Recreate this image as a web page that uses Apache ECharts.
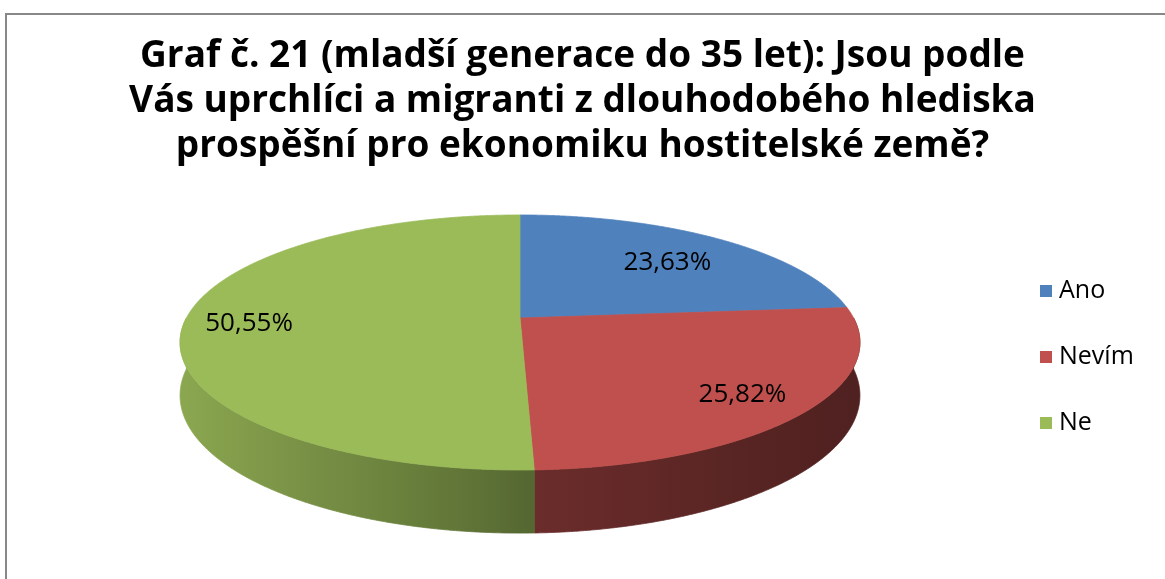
<!DOCTYPE html>
<html>
<head>
<meta charset="utf-8">
<script src="https://cdn.jsdelivr.net/npm/echarts@6/dist/echarts.min.js"></script>
<style>
html,body{margin:0;padding:0;background:#fff;}
#chart{width:1165px;height:579px;}
</style>
</head>
<body>
<div id="chart"></div>
<script>
// ---- data ----
const titleText = 'Graf č. 21 (mladší generace do 35 let): Jsou podle\nVás uprchlíci a migranti z dlouhodobého hlediska\nprospěšní pro ekonomiku hostitelské země?';
const categories = ['Ano', 'Nevím', 'Ne'];
const values = [23.63, 25.82, 50.55];
const labels = ['23,63%', '25,82%', '50,55%'];
const colors = ['#4F81BD', '#C0504D', '#9BBB59'];

// ---- layout of the 3D pie ----
const CX = 520, CY = 318, RA = 333.6, RB = 122.8, PERSP = 0.192, DEPTH = 51;
const labelRadius = [0.72, 0.8, 0.81];
const labelDy = 4;

function proj(X, Z, H) {
  const s = 1 / (1 + PERSP * Z);
  return [CX + RA * X * s, CY - RB * Z * s + DEPTH * H * s];
}
function hexToRgb(h) {
  h = h.replace('#', '');
  return [parseInt(h.substr(0, 2), 16), parseInt(h.substr(2, 2), 16), parseInt(h.substr(4, 2), 16)];
}
function shadeColor(hex, f) {
  const c = hexToRgb(hex).map(v => Math.max(0, Math.min(255, Math.round(v * f))));
  return 'rgb(' + c.join(',') + ')';
}
function sideShade(X) {
  return X < 0 ? 0.57 + 0.32 * (-X) : 0.56 - 0.15 * X;
}

const starts = [];
let acc = 0;
for (let i = 0; i < values.length; i++) { starts.push(acc); acc += values[i]; }

function makeRender(idx) {
  return function (params, api) {
    const v = api.value(0), st = api.value(1);
    const t0 = 2 * Math.PI * st / 100, t1 = 2 * Math.PI * (st + v) / 100;
    const col = colors[idx];
    const children = [];
    const step = Math.PI / 720;
    // side wall (front half only)
    const s0 = Math.max(t0, Math.PI / 2), s1 = Math.min(t1, 3 * Math.PI / 2);
    if (s1 > s0) {
      const top = [], bot = [];
      for (let t = s0; t < s1; t += step) {
        top.push(proj(Math.sin(t), Math.cos(t), 0));
        bot.push(proj(Math.sin(t), Math.cos(t), 1));
      }
      top.push(proj(Math.sin(s1), Math.cos(s1), 0));
      bot.push(proj(Math.sin(s1), Math.cos(s1), 1));
      const pts = top.concat(bot.reverse());
      const stops = [];
      for (let k = 0; k <= 20; k++) {
        const X = -1 + k / 10;
        stops.push({ offset: k / 20, color: shadeColor(col, sideShade(X)) });
      }
      const grad = new echarts.graphic.LinearGradient(CX - RA, 0, CX + RA, 0, stops, true);
      children.push({
        type: 'polygon', z2: 1,
        shape: { points: pts },
        style: { fill: grad, stroke: grad, lineWidth: 0.8 }
      });
    }
    // top face
    const tp = [proj(0, 0, 0)];
    for (let t = t0; t < t1; t += step) tp.push(proj(Math.sin(t), Math.cos(t), 0));
    tp.push(proj(Math.sin(t1), Math.cos(t1), 0));
    children.push({
      type: 'polygon', z2: 10,
      shape: { points: tp },
      style: { fill: col, stroke: col, lineWidth: 0.8 }
    });
    // label
    const tm = (t0 + t1) / 2, r = labelRadius[idx];
    const lp = proj(r * Math.sin(tm), r * Math.cos(tm), 0);
    children.push({
      type: 'text', z2: 20,
      style: {
        text: labels[idx], x: lp[0], y: lp[1] + labelDy,
        fill: '#000', align: 'center', verticalAlign: 'middle',
        font: '26px "Open Sans", sans-serif'
      }
    });
    return { type: 'group', children: children };
  };
}

const series = categories.map((name, i) => ({
  type: 'custom',
  name: name,
  coordinateSystem: 'none',
  itemStyle: { color: colors[i] },
  data: [[values[i], starts[i]]],
  renderItem: makeRender(i),
  animation: false,
  silent: true
}));

const chart = echarts.init(document.getElementById('chart'), null, { renderer: 'canvas' });
chart.setOption({
  backgroundColor: '#fff',
  animation: false,
  title: {
    text: titleText,
    left: 'center',
    top: 29,
    textStyle: {
      fontFamily: '"Open Sans", sans-serif',
      fontWeight: 'bold',
      fontSize: 37,
      lineHeight: 45,
      color: '#000'
    }
  },
  legend: {
    orient: 'vertical',
    left: 1035,
    top: 273,
    itemWidth: 12,
    itemHeight: 12,
    itemGap: 40,
    icon: 'rect',
    data: categories,
    textStyle: {
      fontFamily: '"Open Sans", sans-serif',
      fontSize: 25,
      lineHeight: 26,
      padding: [0, 0, 0, 2],
      color: '#000'
    }
  },
  graphic: [{
    type: 'polyline',
    shape: { points: [[6, 600], [6, 14], [1200, 14]] },
    style: { stroke: '#888', lineWidth: 2, fill: null },
    silent: true
  }],
  series: series
});
</script>
</body>
</html>
